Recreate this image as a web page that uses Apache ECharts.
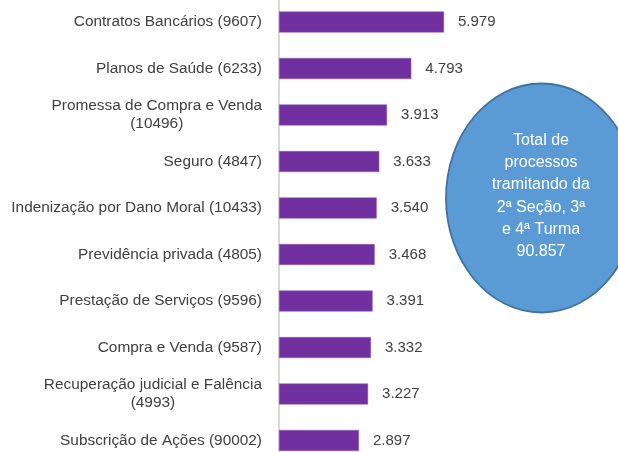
<!DOCTYPE html>
<html>
<head>
<meta charset="utf-8">
<script src="https://cdn.jsdelivr.net/npm/echarts@6/dist/echarts.min.js"></script>
<style>
  html, body { margin: 0; padding: 0; background: #fff; }
  #chart { width: 618px; height: 452px; }
</style>
</head>
<body>
<div id="chart"></div>
<script>
  // assuntos (de cima para baixo)
  const categorias = [
    'Contratos Bancários (9607)',
    'Planos de Saúde (6233)',
    'Promessa de Compra e Venda\n(10496)',
    'Seguro (4847)',
    'Indenização por Dano Moral (10433)',
    'Previdência privada (4805)',
    'Prestação de Serviços (9596)',
    'Compra e Venda (9587)',
    'Recuperação judicial e Falência\n(4993)',
    'Subscrição de Ações (90002)'
  ]
  const valores = [5979, 4793, 3913, 3633, 3540, 3468, 3391, 3332, 3227, 2897]
  const totalTexto = ['Total de', 'processos', 'tramitando da', '2ª Seção, 3ª', 'e 4ª Turma']
  const total = 90857

  const FONT = '"Liberation Sans", Arial, sans-serif'
  // 5979 -> 5.979
  const fmt = v => String(v).replace(/\B(?=(\d{3})+(?!\d))/g, '.')

  const chart = echarts.init(document.getElementById('chart'))
  chart.setOption({
    animation: false,
    // a última faixa continua abaixo da borda da imagem
    grid: {
      left: 279, width: 276, top: -1.25, height: 465,
      containLabel: false, outerBoundsMode: 'none'
    },
    xAxis: {
      type: 'value',
      min: 0,
      max: 10000,
      show: false,
      splitLine: { show: false }
    },
    yAxis: {
      type: 'category',
      inverse: true,
      data: categorias,
      axisLine: { show: true, lineStyle: { color: '#d9d9d9', width: 2 } },
      axisTick: { show: false },
      axisLabel: {
        margin: 17,
        color: '#404040',
        fontFamily: FONT,
        fontSize: 15.4,
        formatter: v => v.split('\n').map(s => '{c|' + s + '}').join('\n'),
        rich: {
          c: { align: 'center', fontSize: 15.4, lineHeight: 18, color: '#404040', fontFamily: FONT }
        }
      }
    },
    series: [{
      type: 'bar',
      data: valores,
      barWidth: 21,
      itemStyle: { color: '#7030a0', borderColor: '#8e5bb5', borderWidth: 0.5 },
      label: {
        show: true,
        position: 'right',
        distance: 14,
        color: '#404040',
        fontFamily: FONT,
        fontSize: 15,
        formatter: p => fmt(p.value)
      }
    }],
    graphic: [
      {
        type: 'ellipse',
        shape: { cx: 541.5, cy: 198, rx: 95.5, ry: 114.5 },
        style: { fill: '#5b9bd5', stroke: '#41719c', lineWidth: 1.8 }
      },
      {
        type: 'text',
        x: 541,
        y: 196,
        style: {
          text: totalTexto.concat(fmt(total)).join('\n'),
          fill: '#ffffff',
          font: '16px ' + FONT,
          align: 'center',
          verticalAlign: 'middle',
          lineHeight: 22.3
        }
      }
    ]
  })
</script>
</body>
</html>
